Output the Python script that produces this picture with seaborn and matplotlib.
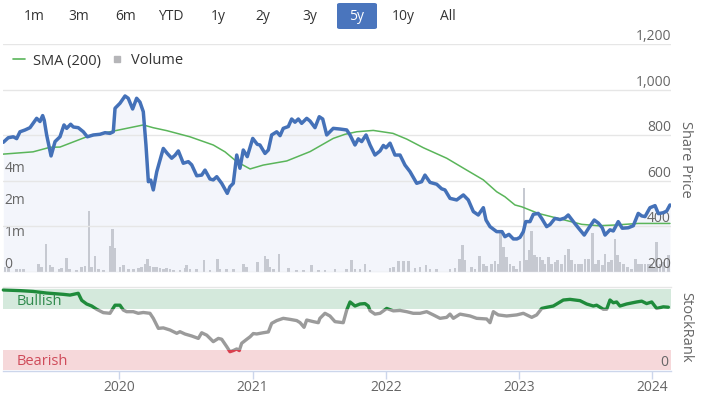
import numpy as np
import matplotlib
matplotlib.use("Agg")
import matplotlib.pyplot as plt
import seaborn as sns
from matplotlib.patches import Rectangle, FancyBboxPatch
from matplotlib.lines import Line2D

# ---------------- data ----------------
price_years = [2019.130, 2019.167, 2019.205, 2019.230, 2019.255, 2019.293, 2019.330, 2019.380, 2019.405,
               2019.425, 2019.437, 2019.455, 2019.488, 2019.518, 2019.555, 2019.585, 2019.605, 2019.635,
               2019.655, 2019.692, 2019.730, 2019.760, 2019.805, 2019.855, 2019.893, 2019.930, 2019.955,
               2019.968, 2020.005, 2020.043, 2020.067, 2020.100, 2020.130, 2020.155, 2020.180, 2020.200,
               2020.218, 2020.236, 2020.255, 2020.281, 2020.330, 2020.360, 2020.393, 2020.418, 2020.443,
               2020.480, 2020.518, 2020.543, 2020.581, 2020.618, 2020.643, 2020.680, 2020.705, 2020.731,
               2020.768, 2020.810, 2020.830, 2020.855, 2020.881, 2020.905, 2020.930, 2020.960, 2021.001,
               2021.035, 2021.055, 2021.093, 2021.118, 2021.143, 2021.181, 2021.206, 2021.230, 2021.268,
               2021.293, 2021.318, 2021.343, 2021.368, 2021.406, 2021.431, 2021.468, 2021.500, 2021.526,
               2021.556, 2021.605, 2021.656, 2021.706, 2021.731, 2021.768, 2021.793, 2021.818, 2021.851,
               2021.881, 2021.918, 2021.956, 2021.981, 2022.001, 2022.031, 2022.068, 2022.106, 2022.143,
               2022.181, 2022.231, 2022.268, 2022.293, 2022.331, 2022.381, 2022.418, 2022.443, 2022.481,
               2022.531, 2022.581, 2022.618, 2022.656, 2022.693, 2022.731, 2022.751, 2022.781, 2022.831,
               2022.871, 2022.893, 2022.923, 2022.956, 2022.983, 2023.006, 2023.031, 2023.049, 2023.081,
               2023.106, 2023.143, 2023.169, 2023.206, 2023.231, 2023.268, 2023.306, 2023.343, 2023.368,
               2023.406, 2023.443, 2023.488, 2023.523, 2023.563, 2023.593, 2023.623, 2023.644, 2023.681,
               2023.706, 2023.743, 2023.773, 2023.818, 2023.856, 2023.893, 2023.919, 2023.944, 2023.981,
               2024.019, 2024.044, 2024.081, 2024.106, 2024.131]
price_vals = [769, 789, 793, 785, 815, 823, 833, 874, 860,
              886, 865, 801, 709, 772, 793, 845, 830, 848,
              836, 833, 815, 793, 801, 804, 811, 808, 815,
              918, 940, 972, 962, 915, 962, 945, 903, 757,
              596, 603, 560, 640, 742, 720, 699, 712, 731,
              677, 684, 670, 622, 625, 647, 608, 604, 618,
              589, 545, 574, 589, 713, 655, 735, 706, 786,
              760, 757, 720, 735, 801, 815, 798, 830, 838,
              871, 857, 871, 852, 874, 862, 833, 881, 871,
              801, 830, 827, 823, 801, 757, 784, 772, 801,
              757, 713, 731, 755, 745, 765, 713, 713, 669,
              640, 589, 596, 625, 593, 585, 565, 560, 523,
              516, 538, 516, 465, 450, 482, 428, 399, 377,
              377, 355, 365, 345, 345, 352, 377, 421, 421,
              453, 457, 435, 399, 408, 435, 430, 437, 450,
              421, 394, 362, 394, 428, 415, 394, 362, 385,
              380, 421, 392, 394, 403, 457, 446, 443, 482,
              491, 456, 460, 467, 494]

sma_years = [2019.128, 2019.353, 2019.480, 2019.555, 2019.755, 2019.930, 2020.180, 2020.253, 2020.356,
             2020.530, 2020.705, 2020.793, 2020.881, 2020.981, 2021.080, 2021.256, 2021.431, 2021.605,
             2021.693, 2021.781, 2021.905, 2022.053, 2022.156, 2022.281, 2022.456, 2022.606, 2022.731,
             2022.831, 2022.893, 2022.968, 2023.019, 2023.143, 2023.293, 2023.469, 2023.593, 2023.718,
             2023.893, 2024.131]
sma_vals = [717, 727, 747, 748, 793, 815, 845, 833, 820,
            793, 757, 727, 684, 652, 669, 687, 728, 786,
            804, 815, 821, 808, 783, 745, 699, 647, 604,
            552, 530, 494, 486, 457, 435, 409, 403, 406,
            413, 413]

vol_years = [2019.142, 2019.167, 2019.230, 2019.255, 2019.280, 2019.392, 2019.418, 2019.450, 2019.480,
             2019.500, 2019.550, 2019.568, 2019.605, 2019.625, 2019.680, 2019.718, 2019.743, 2019.773,
             2019.793, 2019.818, 2019.842, 2019.880, 2019.930, 2019.947, 2019.968, 2020.005, 2020.030,
             2020.067, 2020.105, 2020.142, 2020.168, 2020.193, 2020.210, 2020.230, 2020.255, 2020.281,
             2020.305, 2020.330, 2020.356, 2020.380, 2020.405, 2020.455, 2020.493, 2020.506, 2020.530,
             2020.581, 2020.635, 2020.680, 2020.735, 2020.755, 2020.806, 2020.855, 2020.930, 2020.956,
             2021.035, 2021.093, 2021.110, 2021.131, 2021.155, 2021.198, 2021.268, 2021.331, 2021.380,
             2021.443, 2021.493, 2021.543, 2021.618, 2021.706, 2021.743, 2021.768, 2021.806, 2021.843,
             2021.881, 2022.031, 2022.056, 2022.093, 2022.131, 2022.168, 2022.218, 2022.256, 2022.301,
             2022.331, 2022.381, 2022.481, 2022.518, 2022.551, 2022.576, 2022.593, 2022.643, 2022.668,
             2022.701, 2022.731, 2022.756, 2022.794, 2022.818, 2022.843, 2022.861, 2022.881, 2022.906,
             2022.931, 2022.956, 2022.981, 2023.006, 2023.036, 2023.056, 2023.074, 2023.094, 2023.113,
             2023.131, 2023.156, 2023.173, 2023.193, 2023.218, 2023.244, 2023.268, 2023.289, 2023.319,
             2023.343, 2023.368, 2023.394, 2023.419, 2023.443, 2023.469, 2023.494, 2023.518, 2023.548,
             2023.574, 2023.593, 2023.623, 2023.644, 2023.668, 2023.694, 2023.718, 2023.739, 2023.756,
             2023.781, 2023.814, 2023.844, 2023.874, 2023.893, 2023.919, 2023.944, 2023.968, 2023.994,
             2024.006, 2024.031, 2024.056, 2024.081, 2024.119]
vol_millions = [0.16, 0.13, 0.09, 0.09, 0.09, 0.25, 0.16, 0.88, 0.22,
                0.16, 0.09, 0.13, 0.44, 0.09, 0.06, 0.16, 0.19, 1.87,
                0.16, 0.50, 0.09, 0.06, 0.81, 1.27, 0.75, 0.16, 0.22,
                0.09, 0.09, 0.13, 0.16, 0.25, 0.41, 0.19, 0.16, 0.16,
                0.13, 0.09, 0.13, 0.09, 0.06, 0.06, 0.13, 0.22, 0.09,
                0.09, 0.38, 0.06, 0.41, 0.09, 0.09, 0.09, 0.25, 0.16,
                0.31, 0.50, 0.41, 0.16, 0.09, 0.56, 0.13, 0.06, 0.06,
                0.22, 0.06, 0.06, 0.09, 0.09, 0.38, 0.09, 0.09, 0.25,
                0.06, 0.13, 0.16, 0.34, 0.34, 0.34, 0.13, 0.16, 0.22,
                0.09, 0.09, 0.09, 0.13, 0.41, 0.84, 0.38, 0.16, 0.09,
                0.50, 0.25, 0.19, 0.25, 0.34, 0.25, 1.22, 0.78, 0.47,
                0.25, 0.19, 0.09, 0.34, 3.08, 0.38, 0.69, 1.22, 0.53,
                0.47, 0.47, 0.38, 0.25, 0.47, 0.25, 0.31, 0.38, 0.25,
                0.53, 0.72, 0.38, 0.25, 0.25, 0.25, 0.41, 0.41, 1.16,
                0.25, 0.38, 0.22, 0.56, 0.31, 0.38, 1.02, 0.53, 0.31,
                0.25, 0.16, 0.09, 0.41, 0.25, 0.25, 0.25, 0.25, 0.25,
                0.16, 0.94, 0.25, 0.31, 0.53]

rank_years = [2019.130, 2019.255, 2019.353, 2019.455, 2019.580, 2019.630, 2019.692, 2019.718, 2019.755,
              2019.793, 2019.830, 2019.880, 2019.930, 2019.968, 2020.005, 2020.030, 2020.055, 2020.105,
              2020.142, 2020.180, 2020.230, 2020.255, 2020.293, 2020.330, 2020.380, 2020.431, 2020.455,
              2020.493, 2020.543, 2020.593, 2020.618, 2020.656, 2020.705, 2020.743, 2020.768, 2020.806,
              2020.830, 2020.855, 2020.881, 2020.900, 2020.918, 2020.956, 2020.981, 2021.005, 2021.031,
              2021.080, 2021.118, 2021.143, 2021.181, 2021.230, 2021.281, 2021.331, 2021.356, 2021.386,
              2021.406, 2021.456, 2021.493, 2021.505, 2021.543, 2021.580, 2021.618, 2021.680, 2021.706,
              2021.731, 2021.768, 2021.806, 2021.843, 2021.868, 2021.881, 2021.918, 2021.956, 2022.006,
              2022.056, 2022.106, 2022.156, 2022.205, 2022.256, 2022.306, 2022.356, 2022.406, 2022.456,
              2022.481, 2022.506, 2022.556, 2022.631, 2022.681, 2022.756, 2022.781, 2022.806, 2022.843,
              2022.906, 2022.981, 2023.031, 2023.094, 2023.131, 2023.169, 2023.206, 2023.256, 2023.331,
              2023.381, 2023.456, 2023.506, 2023.556, 2023.581, 2023.631, 2023.656, 2023.681, 2023.706,
              2023.731, 2023.756, 2023.806, 2023.881, 2023.919, 2023.956, 2023.994, 2024.031, 2024.081,
              2024.119]
rank_vals = [98.8, 98, 97, 95, 93.4, 92.5, 94.7, 86, 81.5,
             79, 75, 70.8, 70, 80, 80, 74, 72, 72,
             70, 71, 70, 63.8, 51.4, 52, 49.4, 45.3, 47.3,
             44.4, 42, 39, 46, 43, 35, 39, 38, 28.8,
             22.6, 24, 26, 24, 33, 37.9, 41, 45, 44.5,
             46, 47, 57.6, 61, 63.8, 62.5, 61, 58.5, 52.7,
             61.7, 59.7, 58.4, 63.8, 70, 66.7, 59.7, 58.4, 74,
             84, 79, 81.5, 82, 79, 73.2, 69, 70, 76,
             73, 73.5, 72, 70, 70, 72, 68, 63.8, 65,
             69, 63.8, 69, 66.7, 63.8, 63, 58.4, 72, 68,
             66.7, 68, 70, 65, 68, 76, 77.4, 79, 86.4,
             87.2, 85.6, 81.5, 79, 80, 75, 75, 86.4, 83,
             84, 79, 81.5, 84, 85, 82, 84, 76, 78,
             77.5]

price_ticks = [200, 400, 600, 800, 1000, 1200]
volume_ticks_m = [0, 1, 2, 4]
volume_tick_labels = ["0", "1m", "2m", "4m"]
year_ticks = [2020, 2021, 2022, 2023, 2024]
range_buttons = ["1m", "3m", "6m", "YTD", "1y", "2y", "3y", "5y", "10y", "All"]
selected_button = "5y"

# ---------------- style ----------------
sns.set_theme(style="white")
plt.rcParams['font.family'] = ['Open Sans', 'DejaVu Sans']

W, H = 703, 394
fig = plt.figure(figsize=(W / 100, H / 100), dpi=100)
fig.patch.set_facecolor("white")


def fx(px):
    return px / W


def fy(py):
    return 1 - py / H


BLUE = "#4471b8"
GREEN_SMA = "#5ab55a"
TXT = "#666666"
X0, X1 = 2019.1275, 2024.1388

# ---------------- main pane ----------------
ax_vol = fig.add_axes([fx(3), fy(272), fx(668), (272 - 44) / H])
ax_price = ax_vol.twinx()


def vfwd(v):
    v = np.asarray(v, dtype=float)
    return np.where(v <= 1, v, 1 + np.log2(np.maximum(v, 1)))


def vinv(s):
    s = np.asarray(s, dtype=float)
    return np.where(s <= 1, s, 2 ** (np.maximum(s, 1) - 1))


ax_vol.set_yscale("function", functions=(vfwd, vinv))

# area under price line (in price coordinates, drawn behind the volume bars)
ax_vol.fill_between(price_years, price_vals, 200, transform=ax_price.transData,
                    color="#f3f5fb", lw=0, zorder=0)
ax_vol.bar(vol_years, vol_millions, width=0.02, color="#c6c9d1", lw=0, zorder=1)
ax_vol.set_ylim(0, float(vinv(7.125)))
ax_vol.set_xlim(X0, X1)
ax_vol.set_yticks(volume_ticks_m)
ax_vol.set_yticklabels(volume_tick_labels)
ax_vol.tick_params(axis="y", length=0, pad=-1, labelsize=10, labelcolor=TXT)
ax_vol.tick_params(axis="x", bottom=False, labelbottom=False)
for lbl in ax_vol.get_yticklabels():
    lbl.set_ha("left")
    lbl.set_va("bottom")
ax_vol.yaxis.set_minor_locator(matplotlib.ticker.NullLocator())
for s in ax_vol.spines.values():
    s.set_visible(False)

sns.lineplot(x=sma_years, y=sma_vals, ax=ax_price, color=GREEN_SMA, lw=1.1,
             estimator=None, legend=False)
sns.lineplot(x=price_years, y=price_vals, ax=ax_price, color=BLUE, lw=2.5,
             estimator=None, legend=False)
ax_price.set_ylim(200, 1200)
ax_price.set_xlim(X0, X1)
ax_price.set_yticks(price_ticks)
ax_price.set_yticklabels([f"{t:,}" for t in price_ticks])
ax_price.tick_params(axis="y", length=0, pad=0, labelsize=10, labelcolor=TXT)
ax_price.tick_params(axis="x", bottom=False, labelbottom=False)
for lbl in ax_price.get_yticklabels():
    lbl.set_ha("right")
    lbl.set_va("bottom")
ax_price.set_ylabel("")
ax_price.set_xlabel("")
ax_price.grid(axis="y", color="#e6e6e6", lw=1)
ax_price.grid(axis="x", visible=False)
for s in ax_price.spines.values():
    s.set_visible(False)

handles = [Line2D([0], [0], color=GREEN_SMA, lw=1.2),
           Line2D([0], [0], marker="s", color="#b5b5b8", linestyle="none", markersize=5)]
fig.legend(handles, ["SMA (200)", "Volume"], loc="center left",
           bbox_to_anchor=(fx(13), fy(61)), frameon=False, ncol=2, fontsize=10.5,
           handlelength=0.85, handletextpad=0.5, columnspacing=0.7,
           borderpad=0, borderaxespad=0, labelcolor="#333333")

# ---------------- StockRank pane ----------------
ax_rank = fig.add_axes([fx(3), fy(371), fx(668), (371 - 287) / H])
ax_rank.set_xlim(X0, X1)
ax_rank.set_ylim(-1.23, 102.47)
ax_rank.axhspan(75, 100, color="#d4e9dc", lw=0, zorder=0)
ax_rank.axhspan(0, 25, color="#f6d8da", lw=0, zorder=0)
for lo, hi, col in [(75, 200, "#1f8b3b"), (25, 75, "#9b9b9b"), (-50, 25, "#d8404e")]:
    sns.lineplot(x=rank_years, y=rank_vals, ax=ax_rank, color=col, lw=2.4,
                 estimator=None, legend=False)
    line = ax_rank.lines[-1]
    clip = Rectangle((2018, lo), 8, hi - lo, transform=ax_rank.transData)
    line.set_clip_path(clip)
ax_rank.set_xlabel("")
ax_rank.set_ylabel("")
ax_rank.text(2019.232, 84.3, "Bullish", color="#2f8a4c", fontsize=10.5, va="center", ha="left")
ax_rank.text(2019.232, 10.2, "Bearish", color="#cf4b5a", fontsize=10.5, va="center", ha="left")
ax_rank.set_xticks(year_ticks)
ax_rank.set_xticklabels([str(y) for y in year_ticks])
ax_rank.tick_params(axis="x", bottom=True, length=6, width=1, color="#ccd6eb",
                    labelsize=10, labelcolor=TXT, pad=0.5)
ax_rank.yaxis.tick_right()
ax_rank.set_yticks([0])
ax_rank.set_yticklabels(["0"])
ax_rank.tick_params(axis="y", length=0, pad=-2, labelsize=10, labelcolor=TXT)
for lbl in ax_rank.get_yticklabels():
    lbl.set_ha("right")
    lbl.set_va("bottom")
for k, s in ax_rank.spines.items():
    if k == "top":
        s.set_color("#e6e6e6")
        s.set_linewidth(1)
    elif k == "bottom":
        s.set_color("#ccd6eb")
        s.set_linewidth(1)
    else:
        s.set_visible(False)

# ---------------- side labels ----------------
fig.text(fx(686), fy(159), "Share Price", rotation=270, ha="center", va="center",
         fontsize=10.5, color=TXT)
fig.text(fx(686), fy(327), "StockRank", rotation=270, ha="center", va="center",
         fontsize=10.5, color=TXT)

# ---------------- range selector ----------------
btn_x = [34, 79, 126, 171, 218, 263, 310, 357, 403, 448]
for name, bx in zip(range_buttons, btn_x):
    if name == selected_button:
        patch = FancyBboxPatch((fx(bx - 20), fy(29)), fx(40), 26 / H,
                               boxstyle="round,pad=0,rounding_size=0.004",
                               transform=fig.transFigure, fc="#4a75bd", ec="none")
        fig.add_artist(patch)
        fig.text(fx(bx), fy(16), name, ha="center", va="center", fontsize=10, color="white")
    else:
        fig.text(fx(bx), fy(16), name, ha="center", va="center", fontsize=10, color="#333333")

fig.savefig("out.png", dpi=100, facecolor="white")
